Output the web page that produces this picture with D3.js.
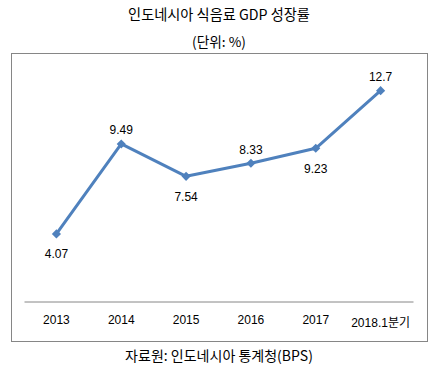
<!DOCTYPE html>
<html><head><meta charset="utf-8">
<script src="https://cdn.jsdelivr.net/npm/d3@7"></script>
<style>body{margin:0;background:#fff;}svg{display:block;}</style>
</head><body>
<script>
const categories = ["2013","2014","2015","2016","2017","2018.1분기"];
const values = [4.07, 9.49, 7.54, 8.33, 9.23, 12.7];
const labelPos = ["below","above","below","above","below","above"];
const title = "인도네시아 식음료 GDP 성장률";
const subtitle = "(단위: %)";
const source = "자료원: 인도네시아 통계청(BPS)";

const W = 438, H = 376;
const font = "'Noto Sans CJK KR', 'Noto Sans', sans-serif";
const svg = d3.select("body").append("svg").attr("width", W).attr("height", H);

function fitText(sel, target, base) {
  const w = sel.node().getComputedTextLength();
  if (w > 0) sel.attr("font-size", base * target / w);
}

const t1 = svg.append("text").attr("x", 219).attr("y", 20).attr("text-anchor","middle")
  .attr("font-family", font).attr("font-size", 13).attr("fill","#000").text(title);
fitText(t1, 182, 13);
const t2 = svg.append("text").attr("x", 219).attr("y", 46.5).attr("text-anchor","middle")
  .attr("font-family", font).attr("font-size", 12).attr("fill","#000").text(subtitle);
fitText(t2, 54, 12);

svg.append("rect").attr("x", 11.5).attr("y", 53.5).attr("width", 416).attr("height", 288)
  .attr("fill","none").attr("stroke","#868686").attr("stroke-width",1);

const x = d3.scaleBand().domain(categories).range([24, 413]);
const y = d3.scaleLinear().domain([0, 14]).range([301.5, 69.1]);

const xAxis = svg.append("g").attr("transform","translate(0,301.5)")
  .call(d3.axisBottom(x).tickSize(0).tickPadding(0));
xAxis.select(".domain").attr("stroke","#868686");
xAxis.selectAll("text").remove();
xAxis.selectAll(".tick").append("text")
  .attr("y", (d,i)=> i===5 ? 25.5 : 22)
  .attr("text-anchor","middle")
  .attr("font-family", "'Liberation Sans', Arial, 'Noto Sans CJK KR', sans-serif")
  .attr("font-size", 12).attr("fill","#000")
  .text(d=>d);

const cx = (i)=> x(categories[i]) + x.bandwidth()/2;
const line = d3.line().x((d,i)=>cx(i)).y(d=>y(d));
svg.append("path").datum(values).attr("d", line).attr("fill","none")
  .attr("stroke","#4F81BD").attr("stroke-width",3).attr("stroke-linejoin","round");

svg.selectAll(".m").data(values).join("path").attr("class","m")
  .attr("d", d3.symbol(d3.symbolSquare, 42))
  .attr("transform",(d,i)=>`translate(${cx(i)},${y(d)}) rotate(45)`)
  .attr("fill","#4F81BD");

svg.selectAll(".lbl").data(values).join("text").attr("class","lbl")
  .attr("x",(d,i)=>cx(i))
  .attr("y",(d,i)=> labelPos[i]==="above" ? y(d)-9.5 : y(d)+24.5)
  .attr("text-anchor","middle")
  .attr("font-family","'Liberation Sans', Arial, sans-serif")
  .attr("font-size",12).attr("fill","#000")
  .text(d=>d);

const t3 = svg.append("text").attr("x", 219).attr("y", 361).attr("text-anchor","middle")
  .attr("font-family", font).attr("font-size", 13).attr("fill","#000").text(source);
fitText(t3, 188, 13);
</script>
</body></html>
